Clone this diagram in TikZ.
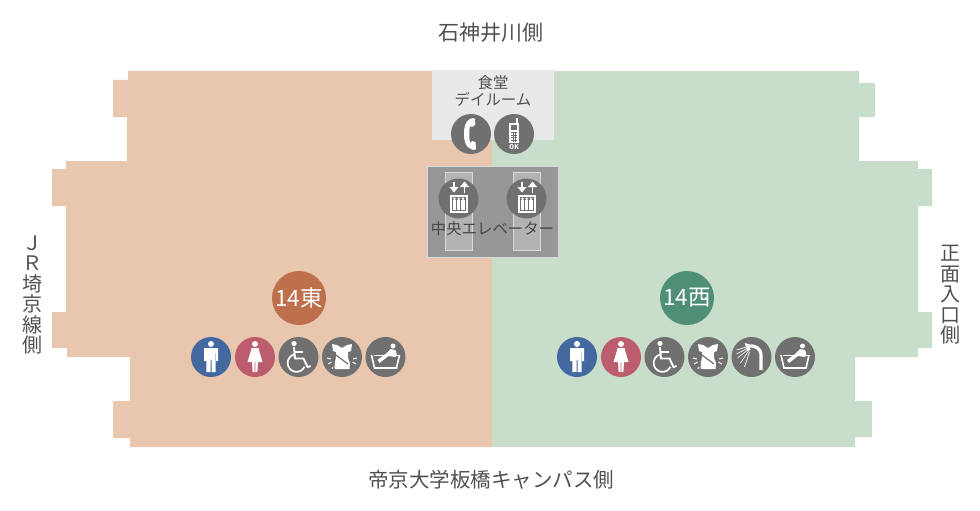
\documentclass[tikz,border=0pt]{standalone}
\usepackage{fontspec}
\setmainfont{Noto Sans CJK JP}
\definecolor{eastc}{HTML}{E8C7AE}
\definecolor{westc}{HTML}{C9DDCB}
\definecolor{roomc}{HTML}{E9E9E9}
\definecolor{elevc}{HTML}{979797}
\definecolor{shaftc}{HTML}{B3B3B3}
\definecolor{iconc}{HTML}{707070}
\definecolor{manc}{HTML}{4469A1}
\definecolor{womanc}{HTML}{BC5D6E}
\definecolor{txtc}{HTML}{505050}
\definecolor{eastb}{HTML}{BE6F4C}
\definecolor{westb}{HTML}{4F8F75}
\tikzset{
  x=1pt,y=-1pt,
  side/.style={text=txtc,font=\fontsize{20.5pt}{20.5pt}\selectfont,inner sep=0pt},
  vside/.style={side,align=center,font=\fontsize{20pt}{20.5pt}\selectfont},
  small/.style={text=txtc,inner sep=0pt,align=center,font=\fontsize{15.4pt}{17pt}\selectfont},
  disc/.style={circle,draw=none,minimum size=40pt,inner sep=0pt},
  floorlabel/.style={circle,draw=none,minimum size=54pt,inner sep=0pt,text=white,font=\fontsize{22.5pt}{22.5pt}\selectfont},
  wl/.style={draw=white,line width=1.1pt,fill=none},
  iconman/.pic={
    \fill[white] (0,-13) circle (3);
    \fill[white] (-7,-9) -- (7,-9) -- (7,4) -- (5,4) -- (5,-4) -- (4.6,-4) -- (4.6,15) -- (.5,15) -- (.5,3) -- (-.5,3) -- (-.5,15) -- (-4.6,15) -- (-4.6,-4) -- (-5,-4) -- (-5,4) -- (-7,4) -- cycle;
  },
  iconwoman/.pic={
    \fill[white] (0,-13) circle (3);
    \fill[white] (-3.5,-9) -- (3.5,-9) -- (4.5,-5) -- (7.5,5) -- (3,5) -- (2.4,15) -- (.4,15) -- (.4,5) -- (-.4,5) -- (-.4,15) -- (-2.4,15) -- (-3,5) -- (-7.5,5) -- (-4.5,-5) -- cycle;
  },
  iconwheel/.pic={
    \fill[white] (-4.5,-13.5) circle (2.6);
    \draw[white,line width=1.9pt,fill=none] (-4.5,-10) -- (-3.5,1.5) -- (5,1.5) -- (9,10) -- (12,9);
    \draw[white,line width=1.7pt] (-4,-5) -- (4,-5);
    \draw[white,line width=1.7pt] plot[smooth,domain=25:255,samples=24] ({-2+8.8*cos(\x)},{6+8.8*sin(\x)});
  },
  iconbaby/.pic={
    \fill[white] (-10,-13) -- (-5,-12) -- (0,-9) -- (5,-12) -- (10,-13) -- (9,-6) -- (6,-5) -- (6,1) -- (8,6) -- (7.5,12) -- (-7.5,12) -- (-7,5) -- (-6,0) -- (-6,-5) -- (-9,-6) -- cycle;
    \draw[iconc,line width=1.2pt] (-6,-2) -- (6,7);
    \draw[white,line width=1pt] (-15,1) -- (-11,2) (-14,7) -- (-10.5,5) (-10,12) -- (-9,10) (15,1) -- (11,2) (14,7) -- (10.5,5);
  },
  iconshower/.pic={
    \draw[white,line width=3.2pt] (9.5,13) -- (9.5,-2) .. controls (9.5,-9) and (3,-12) .. (-4,-11);
    \draw[white,line width=.7pt] (-5,-10) -- (-15,-7) (-4.5,-8.5) -- (-15,-3) (-4,-7) -- (-14,1) (-3,-6) -- (-11,6) (-2,-5) -- (-7,10);
    \fill[white] (-7,-14) -- (-3,-13) -- (-1,-7) -- (-4,-6) -- cycle;
  },
  iconbath/.pic={
    \draw[wl,line width=1.6pt] (-14,-2) -- (-11,11) -- (11,11) -- (14,-2);
    \draw[white,line width=.8pt] (-12,-2) -- (0,-2) (5,-2) -- (13,-2);
    \fill[white] (7.5,-11) circle (2.5);
    \fill[white] (5,-8) -- (10,-7) -- (10,0) -- (3,-1) -- (-6,6) -- (-8,3) -- (0,-3) -- cycle;
    \draw[white,line width=1pt] (10,-6) -- (11,-1);
  },
  iconphone/.pic={
    \fill[white] (-1,-15) .. controls (-6,-13) and (-7,-6) .. (-7,0) .. controls (-7,6) and (-6,13) .. (0,15) -- (3,16) -- (5,15) -- (4.5,8) -- (1,7) -- (-1,9) .. controls (-2,4) and (-2,-4) .. (-1,-8) -- (1,-7) -- (4,-9) -- (4,-15) -- (2,-16) -- cycle;
  },
  iconmobile/.pic={
    \fill[white] (-5,-11) rectangle (5,9);
    \fill[white] (2,-16) rectangle (3.6,-11);
    \fill[iconc] (-3.2,-9) rectangle (3.2,-4);
    \foreach \yy in {-2,.7,3.4,6.1}{\fill[iconc] (-3.4,\yy) rectangle (3.4,\yy+.7);}
    \foreach \xx in {-1.5,1}{\fill[iconc] (\xx,-2.5) rectangle (\xx+.6,8);}
    \node[text=white,inner sep=0pt,font=\bfseries\fontsize{6.5pt}{6.5pt}\selectfont] at (0,13.5) {OK};
  },
  iconlift/.pic={
    \draw[white,line width=1.7pt] (-4.5,-17) -- (-4.5,-10);
    \fill[white] (-9,-11.5) -- (0,-11.5) -- (-4.5,-6) -- cycle;
    \draw[white,line width=1.7pt] (6,-6) -- (6,-12);
    \fill[white] (1.5,-11.5) -- (10.5,-11.5) -- (6,-17) -- cycle;
    \fill[white] (-8.5,-4) rectangle (9,14.5);
    \fill[iconc] (-6.5,-1.5) rectangle (7,12.5);
    \foreach \xx in {-4,.25,4.5}{
      \fill[white] (\xx,.3) circle (1.4);
      \fill[white] (\xx-1.6,1.8) rectangle (\xx+1.6,11.5);
    }
  }
}
\newcommand{\icondisc}[5]{%
  \node[disc,fill=#1] (#2) at (#3) {};
  \pic at (#2) {#4};
}
\begin{document}
\begin{tikzpicture}
\useasboundingbox (0,0) rectangle (980,511);
% east half
\fill[eastc] (492,71) -- (128,71) -- (128,80) -- (113,80) -- (113,117) -- (127,117) -- (127,161) -- (66,161) -- (66,169) -- (52,169) -- (52,206) -- (66,206) -- (66,312) -- (52,312) -- (52,348) -- (67,348) -- (67,357) -- (130,357) -- (130,401) -- (113,401) -- (113,438) -- (130,438) -- (130,447) -- (492,447) -- cycle;
% west half
\fill[westc] (492,71) -- (859,71) -- (859,83) -- (875,83) -- (875,117) -- (859,117) -- (859,161) -- (918,161) -- (918,169) -- (932,169) -- (932,206) -- (918,206) -- (918,312) -- (932,312) -- (932,348) -- (918,348) -- (918,357) -- (855,357) -- (855,401) -- (872,401) -- (872,437) -- (855,437) -- (855,447) -- (492,447) -- cycle;
% dining room
\fill[roomc] (432,70) rectangle (554,140);
\node[small] (room) at (493,91) {食堂\\デイルーム};
\icondisc{iconc}{phone}{471,134}{iconphone}{}
\icondisc{iconc}{mobile}{514,134}{iconmobile}{}
% elevator hall
\filldraw[fill=elevc,draw=white!85!black,line width=1pt] (427.5,166.5) rectangle (558,257);
\filldraw[fill=shaftc,draw=white!85!black,line width=1pt] (445.5,172.5) rectangle (472,250.5);
\filldraw[fill=shaftc,draw=white!85!black,line width=1pt] (513.5,172.5) rectangle (540,250.5);
\icondisc{iconc}{liftA}{458.5,198.5}{iconlift}{}
\icondisc{iconc}{liftB}{526.5,198.5}{iconlift}{}
\node[small,text=black!72] (hall) at (492.5,229) {中央エレベーター};
% floor labels
\node[floorlabel,fill=eastb] (east) at (299,298) {14東};
\node[floorlabel,fill=westb] (west) at (687,298) {14西};
% east icons
\icondisc{manc}{eA}{211,357}{iconman}{}
\icondisc{womanc}{eB}{255,357}{iconwoman}{}
\icondisc{iconc}{eC}{298.5,357}{iconwheel}{}
\icondisc{iconc}{eD}{342,357}{iconbaby}{}
\icondisc{iconc}{eE}{385.5,357}{iconbath}{}
% west icons
\icondisc{manc}{wA}{577,357}{iconman}{}
\icondisc{womanc}{wB}{621,357}{iconwoman}{}
\icondisc{iconc}{wC}{664.5,357}{iconwheel}{}
\icondisc{iconc}{wD}{708,357}{iconbaby}{}
\icondisc{iconc}{wE}{751.5,357}{iconshower}{}
\icondisc{iconc}{wF}{795,357}{iconbath}{}
% side labels
\node[side,font=\fontsize{21pt}{21pt}\selectfont] (north) at (490.5,33) {石神井川側};
\node[side] (south) at (491,480) {帝京大学板橋キャンパス側};
\node[vside] (westside) at (33,295) {Ｊ\\Ｒ\\埼\\京\\線\\側};
\node[vside] (eastside) at (950,295) {正\\面\\入\\口\\側};
\end{tikzpicture}
\end{document}
